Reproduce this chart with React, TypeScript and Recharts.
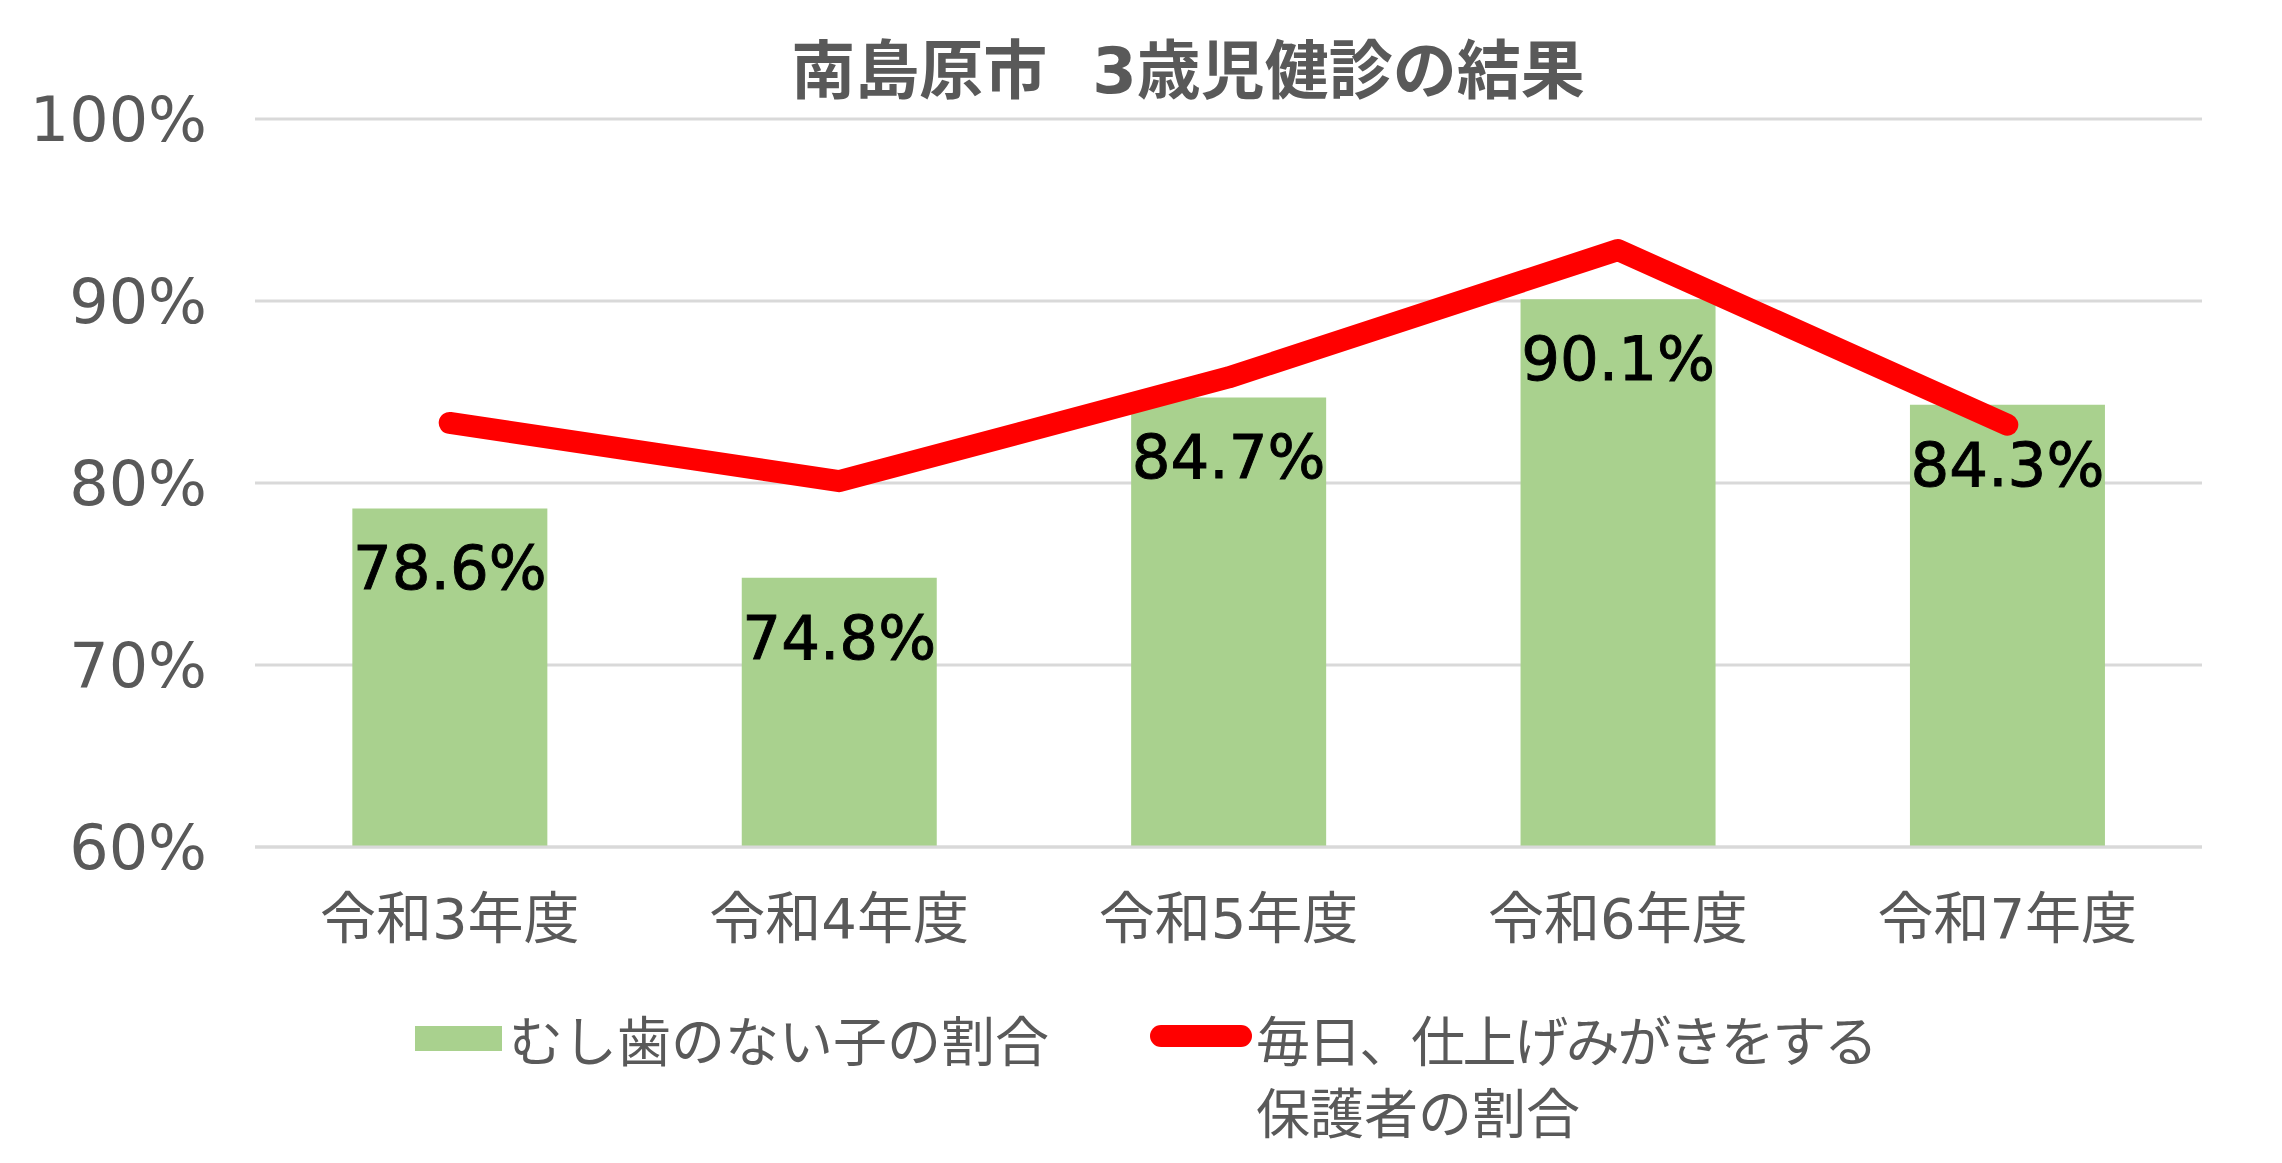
import React from 'react';
import { ComposedChart, Bar, Line, XAxis, YAxis, CartesianGrid, LabelList } from 'recharts';

const categories = ['令和3年度', '令和4年度', '令和5年度', '令和6年度', '令和7年度'];
const noCavityRate = [78.6, 74.8, 84.7, 90.1, 84.3];
const brushingRate = [83.3, 80.1, 85.8, 92.8, 83.2];
const yTicks = [60, 70, 80, 90, 100];
const titleParts = ['南島原市', '　', '3歳児健診の結果'];
const seriesNames = ['むし歯のない子の割合', '毎日、仕上げみがきをする', '保護者の割合'];

const data = categories.map((c, i) => ({ name: c, bar: noCavityRate[i], line: brushingRate[i] }));

const FONT = "'DejaVu Sans', 'Noto Sans CJK JP', sans-serif";
const GRAY = '#595959';
const GREEN = '#A9D18E';
const RED = '#FF0000';

const W = 2282;
const H = 1163;

const renderBarLabel = (props: any) => {
  const { x, y, width, value } = props;
  return (
    <text
      x={Number(x) + Number(width) / 2}
      y={Number(y) + 81}
      textAnchor="middle"
      fontSize={61}
      fontFamily={FONT}
      fill="#000000"
      stroke="#000000"
      strokeWidth={0.9}
    >
      {Number(value).toFixed(1)}%
    </text>
  );
};

export default function App() {
  return (
    <div style={{ position: 'fixed', left: 0, top: 0, width: W, height: H, background: '#fff' }}>
      <ComposedChart
        width={W}
        height={H}
        data={data}
        margin={{ top: 119, right: 80, bottom: 256, left: 0 }}
        barCategoryGap="25%"
      >
        <CartesianGrid vertical={false} stroke="#D9D9D9" strokeWidth={3} />
        <XAxis
          dataKey="name"
          height={60}
          axisLine={{ stroke: '#D9D9D9', strokeWidth: 3 }}
          tickLine={false}
          tickMargin={45}
          tick={{ fill: GRAY, fontSize: 56, fontFamily: FONT }}
          interval={0}
        />
        <YAxis
          width={255}
          domain={[60, 100]}
          ticks={yTicks}
          axisLine={false}
          tickLine={false}
          tickMargin={42}
          tickFormatter={(v: number) => `${v}%`}
          tick={{ fill: GRAY, fontSize: 62, fontFamily: FONT }}
          interval={0}
        />
        <Bar dataKey="bar" fill={GREEN} isAnimationActive={false}>
          <LabelList dataKey="bar" content={renderBarLabel} />
        </Bar>
        <Line
          dataKey="line"
          type="linear"
          stroke={RED}
          strokeWidth={22}
          strokeLinecap="round"
          strokeLinejoin="round"
          dot={false}
          activeDot={false}
          isAnimationActive={false}
        />
      </ComposedChart>
      <svg
        width={W}
        height={H}
        style={{ position: 'absolute', left: 0, top: 0, pointerEvents: 'none' }}
      >
        <text x={1188} y={93} textAnchor="middle" fontSize={64} fontWeight={700} fontFamily={FONT} fill={GRAY}>
          <tspan>{titleParts[0]}</tspan>
          <tspan dx={-18}>{titleParts[1]}</tspan>
          <tspan dx={-1}>{titleParts[2]}</tspan>
        </text>
        <rect x={415} y={1026} width={87} height={25} fill={GREEN} />
        <text x={509} y={1062} fontSize={54} fontFamily={FONT} fill={GRAY}>
          {seriesNames[0]}
        </text>
        <line x1={1161} y1={1036} x2={1241} y2={1036} stroke={RED} strokeWidth={22} strokeLinecap="round" />
        <text x={1256} y={1062} fontSize={54} fontFamily={FONT} fill={GRAY} textLength={622} lengthAdjust="spacing">
          {seriesNames[1]}
        </text>
        <text x={1256} y={1134} fontSize={54} fontFamily={FONT} fill={GRAY}>
          {seriesNames[2]}
        </text>
      </svg>
    </div>
  );
}
